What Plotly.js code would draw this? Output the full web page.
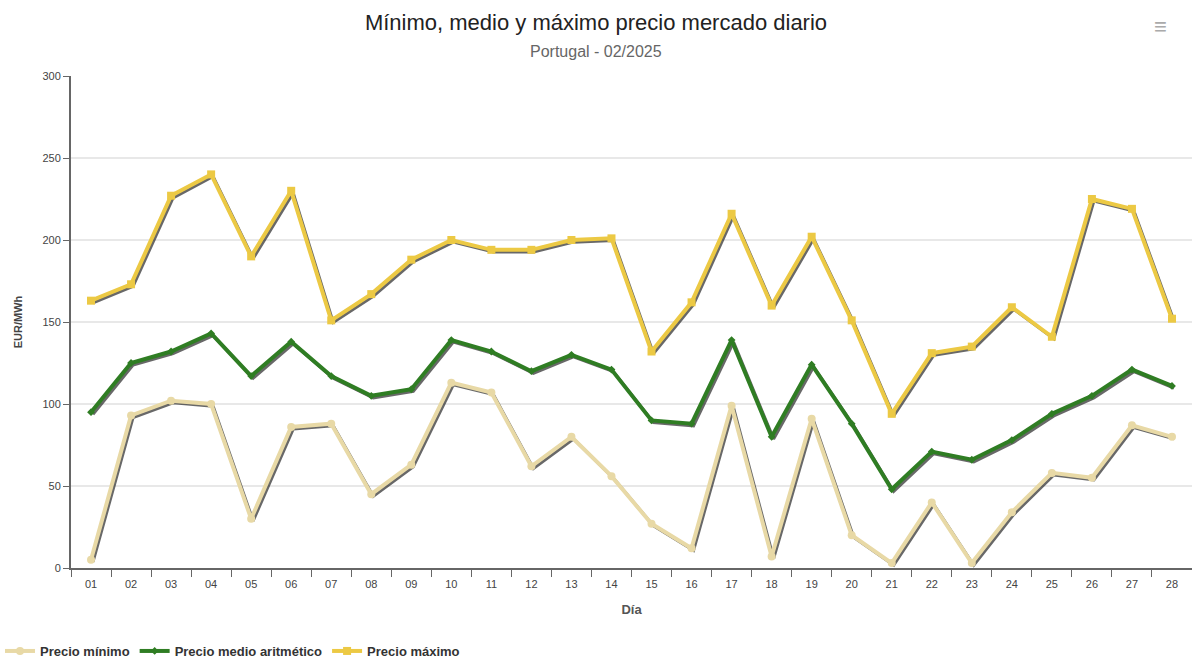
<!DOCTYPE html>
<html>
<head>
<meta charset="utf-8">
<script src="https://cdn.plot.ly/plotly-3.0.1.min.js"></script>
<style>html,body{margin:0;padding:0;background:#fff;}#chart{width:1192px;height:658px;}</style>
</head>
<body>
<div id="chart"></div>
<script>
const dias = ["01","02","03","04","05","06","07","08","09","10","11","12","13","14","15","16","17","18","19","20","21","22","23","24","25","26","27","28"];
const precioMinimo = [5,93,102,100,30,86,88,45,63,113,107,62,80,56,27,12,99,7,91,20,3,40,3,34,58,55,87,80];
const precioMedio = [95,125,132,143,117,138,117,105,109,139,132,120,130,121,90,88,139,80,124,88,48,71,66,78,94,105,121,111];
const precioMaximo = [163,173,227,240,190,230,151,167,188,200,194,194,200,201,132,162,216,160,202,151,94,131,135,159,141,225,219,152];

const series = [
  {name: "Precio mínimo", y: precioMinimo, color: "#e8d9a6", symbol: "circle", size: 8},
  {name: "Precio medio aritmético", y: precioMedio, color: "#2f7d23", symbol: "diamond", size: 6},
  {name: "Precio máximo", y: precioMaximo, color: "#ecc944", symbol: "square", size: 8}
];

const traces = [];
// shadow traces on the (hidden, slightly shifted) base axes, drawn beneath
series.forEach(s => {
  traces.push({
    x: dias, y: s.y, type: "scatter", mode: "lines",
    xaxis: "x", yaxis: "y", showlegend: false, hoverinfo: "skip",
    line: {color: "rgba(40,40,40,0.7)", width: 3}
  });
});
// main traces on the visible overlay axes
series.forEach(s => {
  traces.push({
    x: dias, y: s.y, type: "scatter", mode: "lines+markers", name: s.name,
    xaxis: "x2", yaxis: "y2",
    line: {color: s.color, width: 4},
    marker: {color: s.color, symbol: s.symbol, size: s.size}
  });
});

const yr = [0, 300];
const xr = [-0.5, 27.5];
const layout = {
  width: 1192, height: 658,
  margin: {l: 71, r: 0, t: 76, b: 90},
  paper_bgcolor: "#ffffff", plot_bgcolor: "#ffffff",
  font: {family: "Liberation Sans, Arial, sans-serif", color: "#333"},
  title: {
    text: "Mínimo, medio y máximo precio mercado diario",
    font: {size: 22, color: "#222", family: "Liberation Sans, Arial"},
    x: 0.5, xref: "container", xanchor: "center",
    y: 1 - 22/658, yref: "container", yanchor: "middle"
  },
  annotations: [
    {text: "Portugal - 02/2025", xref: "paper", yref: "paper", x: (596 - 71)/1121, y: (568 - 52)/492,
     xanchor: "center", yanchor: "middle", showarrow: false,
     font: {size: 16, color: "#666", family: "Liberation Sans, Arial"}},
    {text: "≡", xref: "paper", yref: "paper", x: (1160 - 71)/1121, y: (568 - 27)/492,
     xanchor: "center", yanchor: "middle", showarrow: false,
     font: {size: 22, color: "#aaa"}}
  ],
  xaxis: {type: "category", categoryarray: dias, range: [xr[0] - 0.05, xr[1] - 0.05], visible: false, fixedrange: true},
  yaxis: {range: [yr[0] + 1.3, yr[1] + 1.3], visible: false, fixedrange: true},
  xaxis2: {
    type: "category", categoryarray: dias, range: xr, fixedrange: true, overlaying: "x", side: "bottom",
    showline: true, linecolor: "#666", linewidth: 2,
    ticks: "outside", tickson: "boundaries", ticklen: 7, tickcolor: "#666", tickwidth: 1,
    ticklabelstandoff: 5,
    showgrid: false,
    tickfont: {size: 11, color: "#444", family: "Liberation Sans, Arial"},
    title: {text: "<b>Día</b>", font: {size: 13, color: "#555"}, standoff: 16}
  },
  yaxis2: {
    range: yr, dtick: 50, tick0: 0, fixedrange: true, overlaying: "y", side: "left",
    showline: true, linecolor: "#666", linewidth: 2,
    ticks: "outside", ticklen: 6, tickcolor: "#666",
    showgrid: true, gridcolor: "#e8e8e8", gridwidth: 2,
    zeroline: false,
    tickfont: {size: 11, color: "#444", family: "Liberation Sans, Arial"},
    title: {text: "<b>EUR/MWh</b>", font: {size: 11, color: "#444"}, standoff: 18}
  },
  legend: {
    orientation: "h", xref: "container", yref: "container",
    x: -0.009, y: 1 - 651/658, xanchor: "left", yanchor: "middle",
    font: {size: 13, color: "#333", weight: "bold"}, itemwidth: 30, tracegroupgap: 0
  },
  showlegend: true
};

Plotly.newPlot("chart", traces, layout, {displayModeBar: false, staticPlot: true});
</script>
</body>
</html>
